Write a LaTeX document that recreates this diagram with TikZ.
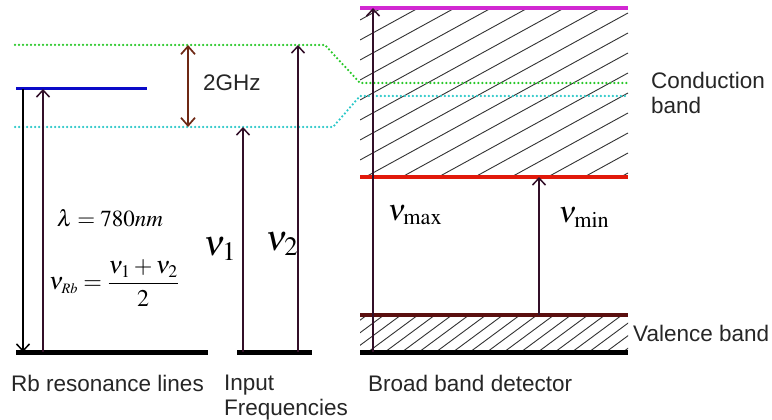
\documentclass[tikz,border=0pt]{standalone}
\usepackage{mathptmx}
\usepackage{fontspec}
\setmainfont{Liberation Sans}
\usetikzlibrary{arrows.meta}
\definecolor{cgreen}{RGB}{40,200,40}
\definecolor{ccyan}{RGB}{40,200,200}
\definecolor{cblue}{RGB}{10,10,200}
\definecolor{cmag}{RGB}{210,40,210}
\definecolor{cred}{RGB}{225,25,10}
\definecolor{cbrown}{RGB}{90,15,15}
\definecolor{carrow}{RGB}{110,40,20}
\definecolor{cpurp}{RGB}{50,15,40}
\tikzset{
  lab/.style={font=\fontsize{22.5}{25}\selectfont, inner sep=0pt, text=black!85},
  mth/.style={inner sep=0pt},
  dotline/.style={line width=2.5pt, line cap=round, dash pattern=on 0pt off 4pt},
  bar/.style={line width=5pt, black},
  mybarb/.tip={Straight Barb[length=7pt,width=13pt,line width=1.5pt]},
  bigbarb/.tip={Straight Barb[length=8pt,width=14pt,line width=1.7pt]},
  uparr/.style={line width=1.5pt, cpurp, -mybarb},
  hatch/.style={line width=0.9pt, black!80},
}
\begin{document}
\begin{tikzpicture}[x=1pt,y=-1pt]
\useasboundingbox (0,0) rectangle (772,420);
\fill[white] (0,0) rectangle (772,420);
% coordinates
\coordinate (rbL) at (16,352); \coordinate (rbR) at (208,352);
\coordinate (inL) at (237,352); \coordinate (inR) at (312,352);
\coordinate (bdL) at (360,352); \coordinate (bdR) at (628,352);
\coordinate (vtL) at (360,315); \coordinate (vtR) at (628,315);
\coordinate (cbL) at (360,177); \coordinate (cbR) at (628,177);
\coordinate (mgL) at (360,8); \coordinate (mgR) at (628,8);
\coordinate (blL) at (16,89); \coordinate (blR) at (147,89);
% hatching conduction band
\begin{scope}
\clip (360,8) rectangle (628,177);
\foreach \c in {0,20,...,340} \draw[hatch] (360,\c) -- (628,\c-147);
\end{scope}
% hatching valence band
\begin{scope}
\clip (360,315) rectangle (628,352);
\foreach \c in {300,317,...,640} \draw[hatch] (\c,352) -- (\c+50,315);
\end{scope}
% dotted lines
\draw[dotline, cgreen] (15,45) -- (325,45) -- (360,83) -- (628,83);
\draw[dotline, ccyan] (15,127) -- (333,127) -- (360,96) -- (628,96);
% levels
\draw[line width=3pt, cblue] (blL) -- (blR);
\draw[line width=4pt, cmag] (mgL) -- (mgR);
\draw[line width=4pt, cred] (cbL) -- (cbR);
\draw[line width=3.5pt, cbrown] (vtL) -- (vtR);
\draw[bar] (rbL) -- (rbR);
\draw[bar] (inL) -- (inR);
\draw[bar] (bdL) -- (bdR);
% arrows
\coordinate (a1t) at (23,89); \coordinate (a1b) at (23,352);
\draw[line width=1.5pt, black, -mybarb] (a1t) -- (a1b);
\draw[uparr] (43,352) -- (43,89);
\draw[uparr] (243,352) -- (243,127);
\draw[uparr] (298,352) -- (298,45);
\draw[uparr] (373,352) -- (373,8);
\draw[uparr] (539,315) -- (539,177);
\draw[line width=1.7pt, carrow, bigbarb-bigbarb] (188,45) -- (188,127);
% labels
\node[lab, anchor=west] (ghz) at (203,83) {2GHz};
\node[lab, anchor=west, align=left] (cond) at (651,93) {Conduction\\band};
\node[lab, anchor=west] (val) at (633,333) {Valence band};
\node[lab, anchor=west] (bbd) at (368,383) {Broad band detector};
\node[lab, anchor=west] (rbl) at (11,383) {Rb resonance lines};
\node[lab, anchor=north west, align=left] (inp) at (224,375) {Input\\Frequencies};
% math
\node[mth] (lam) at (110,218) {\fontsize{23}{25}\selectfont $\lambda = 780nm$};
\node[mth] (nurb) at (114,283) {\fontsize{24}{26}\selectfont $\displaystyle\nu_{\scriptscriptstyle Rb} = \frac{\nu_1+\nu_2}{2}$};
\node[mth] (nu1) at (220,249) {\fontsize{36}{40}\selectfont $\nu_{\scriptstyle 1}$};
\node[mth] (nu2) at (282,244) {\fontsize{36}{40}\selectfont $\nu_{\scriptstyle 2}$};
\node[mth] (numax) at (415,215) {\fontsize{30}{34}\selectfont $\nu_{\scriptstyle\mathrm{max}}$};
\node[mth] (numin) at (584,217) {\fontsize{30}{34}\selectfont $\nu_{\scriptstyle\mathrm{min}}$};
\end{tikzpicture}
\end{document}
